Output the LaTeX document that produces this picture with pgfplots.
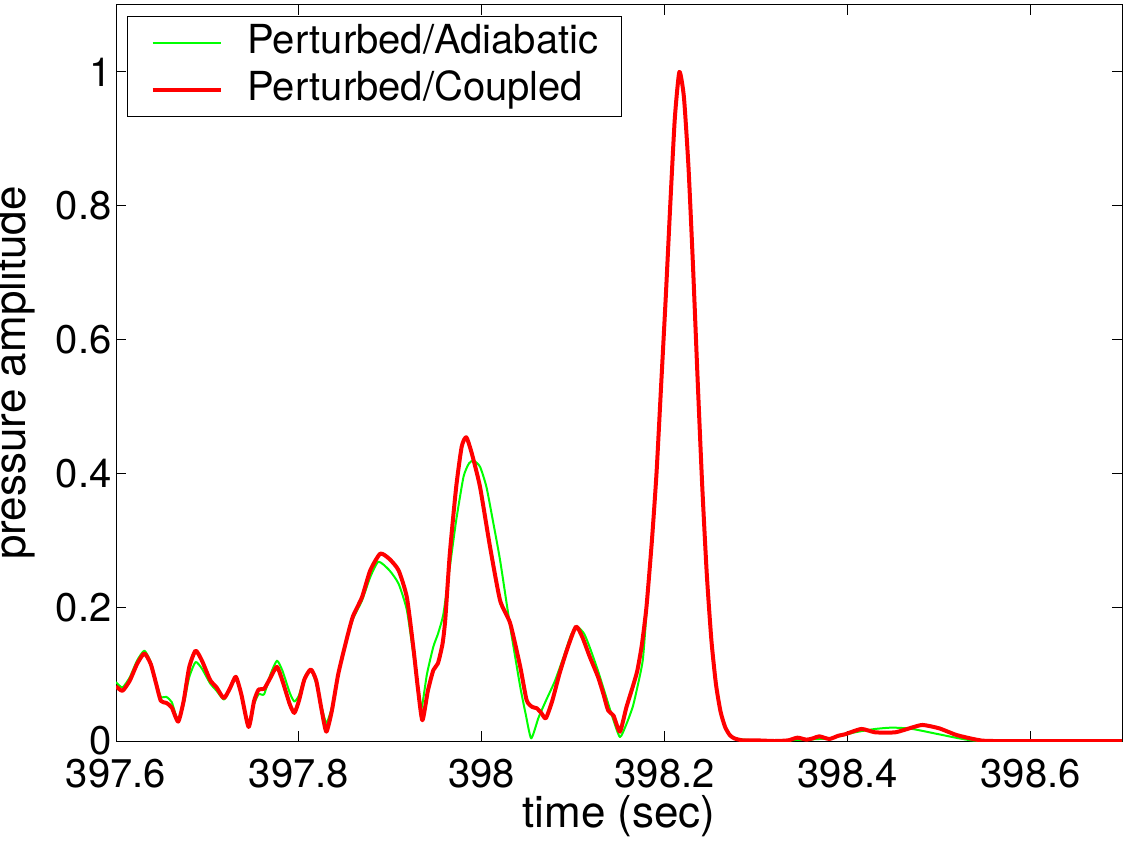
\documentclass[border=0pt]{standalone}
\usepackage{pgfplots}
\pgfplotsset{compat=1.18}
\usepackage{fontspec}
\setmainfont{TeX Gyre Heros}
\newcommand\chartfont{\fontsize{20pt}{24pt}\selectfont}
\newcommand\labelfont{\fontsize{22pt}{26pt}\selectfont}
\definecolor{mgreen}{rgb}{0,1,0}
\definecolor{mred}{rgb}{1,0,0}
\begin{document}
\begin{tikzpicture}
\begin{axis}[
  at={(0,0)}, anchor=south west,
  scale only axis, width=503pt, height=368pt,
  xmin=397.6, xmax=398.7, ymin=0, ymax=1.1,
  xtick={397.6,397.8,398,398.2,398.4,398.6},
  xticklabels={397.6,397.8,398,398.2,398.4,398.6},
  ytick={0,0.2,0.4,0.6,0.8,1},
  yticklabels={0,0.2,0.4,0.6,0.8,1},
  tick align=inside, major tick length=5pt,
  every tick/.style={black, line width=0.5pt},
  axis line style={black, line width=0.5pt},
  /pgf/number format/assume math mode=true,
  every tick label/.append style={font=\chartfont, inner sep=0pt},
  xticklabel style={anchor=base, yshift=-23pt},
  yticklabel style={anchor=east, xshift=-2pt},
  xlabel={time (sec)}, ylabel={pressure amplitude},
  every axis x label/.style={at={(axis description cs:0.5,0)}, anchor=base, yshift=-43pt, font=\labelfont, inner sep=0pt},
  every axis y label/.style={at={(axis description cs:-0.0895,0.5)}, anchor=base, rotate=90, font=\labelfont, inner sep=0pt},
  legend cell align=left,
  legend image code/.code={\draw[#1] (0pt,0pt) -- (34pt,0pt);},
  legend style={at={(axis description cs:0,1)}, anchor=north west, xshift=5.5pt, yshift=-5.5pt,
    draw=black, line width=0.5pt, inner xsep=11.5pt, inner ysep=4pt, row sep=5pt,
    nodes={inner sep=0pt, font=\chartfont, text height=14.5pt, text depth=4pt},
    /tikz/every odd column/.append style={column sep=12.5pt}},
]
\addplot[mgreen, line width=1pt, line join=round, smooth, tension=0.35] coordinates {
(397.600,0.088) (397.607,0.080) (397.615,0.095) (397.623,0.120) (397.631,0.135)
(397.638,0.118) (397.644,0.088) (397.649,0.066) (397.655,0.066) (397.661,0.058)
(397.668,0.030) (397.674,0.055) (397.680,0.095) (397.687,0.118) (397.694,0.108)
(397.703,0.086) (397.710,0.075) (397.718,0.062) (397.725,0.078) (397.731,0.094)
(397.737,0.068) (397.745,0.022) (397.751,0.055) (397.756,0.070) (397.762,0.070)
(397.769,0.100) (397.776,0.120) (397.782,0.105) (397.790,0.072) (397.795,0.059)
(397.800,0.068) (397.806,0.095) (397.813,0.107) (397.819,0.085) (397.825,0.050)
(397.830,0.027) (397.836,0.050) (397.843,0.100) (397.852,0.150) (397.859,0.182)
(397.869,0.210) (397.878,0.245) (397.887,0.268) (397.899,0.255) (397.909,0.235)
(397.918,0.196) (397.925,0.131) (397.930,0.085) (397.934,0.049) (397.940,0.100)
(397.947,0.141) (397.952,0.160) (397.958,0.190) (397.965,0.260) (397.972,0.330)
(397.980,0.395) (397.986,0.415) (397.991,0.419) (397.998,0.410) (398.005,0.380)
(398.012,0.330) (398.020,0.270) (398.031,0.171) (398.042,0.081) (398.048,0.040)
(398.054,0.004) (398.062,0.035) (398.070,0.060) (398.080,0.090) (398.090,0.128)
(398.098,0.160) (398.105,0.170) (398.112,0.160) (398.118,0.140) (398.127,0.105)
(398.135,0.070) (398.143,0.035) (398.151,0.006) (398.158,0.025) (398.165,0.051)
(398.170,0.080) (398.176,0.121) (398.180,0.190) (398.186,0.300) (398.191,0.400)
(398.196,0.530) (398.201,0.660) (398.206,0.800) (398.211,0.930) (398.216,1.000)
(398.221,0.962) (398.226,0.857) (398.231,0.707) (398.236,0.539) (398.241,0.381)
(398.246,0.249) (398.251,0.151) (398.256,0.085) (398.261,0.044) (398.266,0.021)
(398.271,0.009) (398.280,0.003) (398.300,0.001) (398.330,0.001) (398.380,0.004)
(398.408,0.013) (398.430,0.018) (398.448,0.020) (398.465,0.019) (398.475,0.017)
(398.500,0.010) (398.526,0.003) (398.550,0.000) (398.700,0.000)
};
\addlegendentry{Perturbed/Adiabatic}
\addplot[mred, line width=2pt, line join=round, smooth, tension=0.35] coordinates {
(397.600,0.082) (397.607,0.075) (397.615,0.090) (397.623,0.115) (397.631,0.131)
(397.638,0.115) (397.644,0.085) (397.649,0.060) (397.655,0.057) (397.661,0.050)
(397.668,0.029) (397.674,0.060) (397.680,0.110) (397.687,0.135) (397.694,0.120)
(397.703,0.091) (397.710,0.080) (397.718,0.064) (397.725,0.080) (397.731,0.096)
(397.737,0.070) (397.745,0.021) (397.751,0.060) (397.756,0.077) (397.762,0.078)
(397.769,0.095) (397.776,0.111) (397.782,0.090) (397.790,0.055) (397.795,0.042)
(397.800,0.060) (397.806,0.092) (397.813,0.107) (397.819,0.090) (397.825,0.045)
(397.830,0.014) (397.836,0.045) (397.843,0.100) (397.852,0.151) (397.859,0.186)
(397.869,0.215) (397.878,0.255) (397.889,0.280) (397.899,0.272) (397.909,0.255)
(397.918,0.215) (397.925,0.141) (397.930,0.080) (397.935,0.031) (397.941,0.075)
(397.947,0.106) (397.952,0.116) (397.957,0.145) (397.960,0.181) (397.965,0.280)
(397.972,0.380) (397.978,0.440) (397.983,0.454) (397.989,0.430) (397.998,0.380)
(398.009,0.290) (398.020,0.210) (398.031,0.176) (398.042,0.111) (398.049,0.061)
(398.055,0.051) (398.060,0.049) (398.065,0.042) (398.070,0.034) (398.077,0.060)
(398.085,0.101) (398.094,0.140) (398.103,0.171) (398.110,0.155) (398.118,0.126)
(398.127,0.096) (398.133,0.070) (398.138,0.046) (398.144,0.038) (398.151,0.014)
(398.158,0.050) (398.165,0.081) (398.170,0.105) (398.175,0.144) (398.180,0.200)
(398.186,0.300) (398.191,0.400) (398.196,0.530) (398.201,0.660) (398.206,0.800)
(398.211,0.930) (398.216,1.000) (398.221,0.962) (398.226,0.857) (398.231,0.707)
(398.236,0.539) (398.241,0.381) (398.246,0.249) (398.251,0.151) (398.256,0.085)
(398.261,0.044) (398.266,0.021) (398.271,0.009) (398.276,0.004) (398.285,0.001)
(398.300,0.001) (398.320,0.000) (398.335,0.001) (398.345,0.005) (398.355,0.002)
(398.362,0.004) (398.369,0.007) (398.380,0.003) (398.390,0.008) (398.397,0.010)
(398.415,0.018) (398.430,0.013) (398.452,0.013) (398.470,0.020) (398.482,0.024)
(398.500,0.019) (398.519,0.009) (398.541,0.002) (398.560,0.000) (398.700,0.000)
};
\addlegendentry{Perturbed/Coupled}
\end{axis}
\pgfresetboundingbox
\path[use as bounding box] (-58pt,-50.5pt) rectangle (505.5pt,370.5pt);
\end{tikzpicture}
\end{document}
